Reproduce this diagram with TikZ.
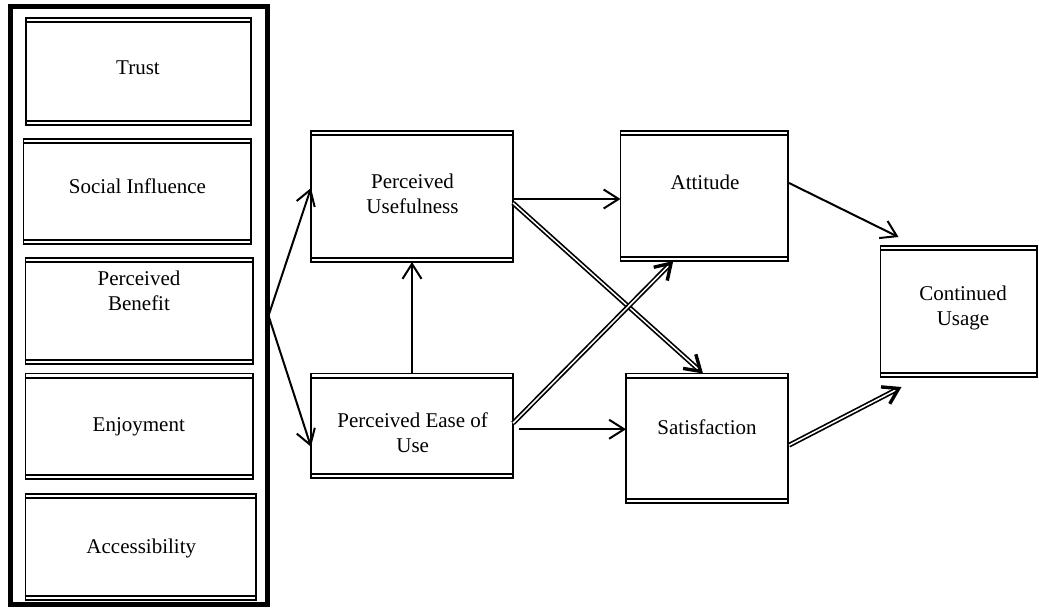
\documentclass[tikz,border=0pt]{standalone}
\usepackage{fontspec}
\setmainfont{Liberation Serif}
\usetikzlibrary{arrows.meta,calc}
\begin{document}
\begin{tikzpicture}[x=1pt,y=-1pt,
  dbox/.style={draw, line width=1.7pt, rectangle, inner sep=0pt, outer sep=0pt, anchor=north west,
    append after command={\pgfextra{\let\LN\tikzlastnode\draw[line width=1.8pt]
      ([yshift=-4.2pt]\LN.north west) -- ([yshift=-4.2pt]\LN.north east)
      ([yshift=4.2pt]\LN.south west) -- ([yshift=4.2pt]\LN.south east);}}},
  outerbox/.style={draw, line width=5pt, rectangle, inner sep=0pt, outer sep=0pt, anchor=north west},
  txt/.style={anchor=north, inner sep=0pt, align=center, font=\fontsize{21}{25}\selectfont},
  arr/.style={line width=2pt, -{Straight Barb[length=15pt,width=19pt]}},
  darr/.style={line width=1.7pt, double, double distance=1.5pt, -{Straight Barb[length=15pt,width=19pt,line width=3.4pt]}},
]
\useasboundingbox (0,0) rectangle (1039,609);

% outer frame
\node[outerbox, minimum width=256.5pt, minimum height=597.5pt] (outer) at (10.5,7) {};

% left boxes
\node[dbox, minimum width=225pt, minimum height=107pt] (trust) at (26,18) {};
\node[dbox, minimum width=227.5pt, minimum height=105pt] (social) at (23.5,139) {};
\node[dbox, minimum width=227.5pt, minimum height=106pt] (benefit) at (25.5,258) {};
\node[dbox, minimum width=227.5pt, minimum height=105.5pt] (enjoy) at (25.5,373.5) {};
\node[dbox, minimum width=230.5pt, minimum height=106pt] (access) at (25.5,494) {};

% middle and right boxes
\node[dbox, minimum width=202pt, minimum height=131pt] (pu) at (311,131) {};
\node[dbox, minimum width=202pt, minimum height=104.5pt] (peou) at (311,373.5) {};
\node[dbox, minimum width=167.5pt, minimum height=130pt] (att) at (620.5,131) {};
\node[dbox, minimum width=162pt, minimum height=129.5pt] (sat) at (626,373.5) {};
\node[dbox, minimum width=156.5pt, minimum height=131pt] (cu) at (880.5,246) {};

% texts (anchor north = first baseline - 17.5)
\node[txt] (ttrust) at (138,56.5) {\strut Trust};
\node[txt] (tsocial) at (137.5,175.5) {\strut Social Influence};
\node[txt] (tbenefit) at (139,267.5) {\strut Perceived\\\strut Benefit};
\node[txt] (tenjoy) at (138.8,413.5) {\strut Enjoyment};
\node[txt] (taccess) at (141.3,535.5) {\strut Accessibility};
\node[txt] (tpu) at (412.5,171) {\strut Perceived\\\strut Usefulness};
\node[txt] (tpeou) at (412.7,410.2) {\strut Perceived Ease of\\\strut Use};
\node[txt] (tatt) at (705,171.8) {\strut Attitude};
\node[txt] (tsat) at (707,416.5) {\strut Satisfaction};
\node[txt] (tcu) at (963,282.5) {\strut Continued\\\strut Usage};

% connectors
\coordinate (fork) at ($(outer.east)+(1.5,10)$);
\draw[arr] (fork) -- ($(pu.west)+(0,-8.5)$);
\draw[arr] (fork) -- ($(peou.west)+(0,21)$);
\draw[arr] (peou.north) -- (pu.south);
\draw[arr] ($(pu.east)+(0,2.5)$) -- ($(att.west)+(0,3)$);
\draw[darr] ($(pu.east)+(0,6.5)$) -- ($(sat.north)+(-4,0)$);
\draw[darr] ($(peou.east)+(0,-2.5)$) -- ($(att.south)+(-31,0)$);
\draw[arr] ($(peou.east)+(6,3.5)$) -- ($(sat.west)+(0,-9)$);
\draw[arr] ($(att.east)+(1,-13)$) -- ($(cu.north west)+(18,-9)$);
\draw[darr] ($(sat.east)+(1,7)$) -- ($(cu.south west)+(21,10)$);
\end{tikzpicture}
\end{document}
